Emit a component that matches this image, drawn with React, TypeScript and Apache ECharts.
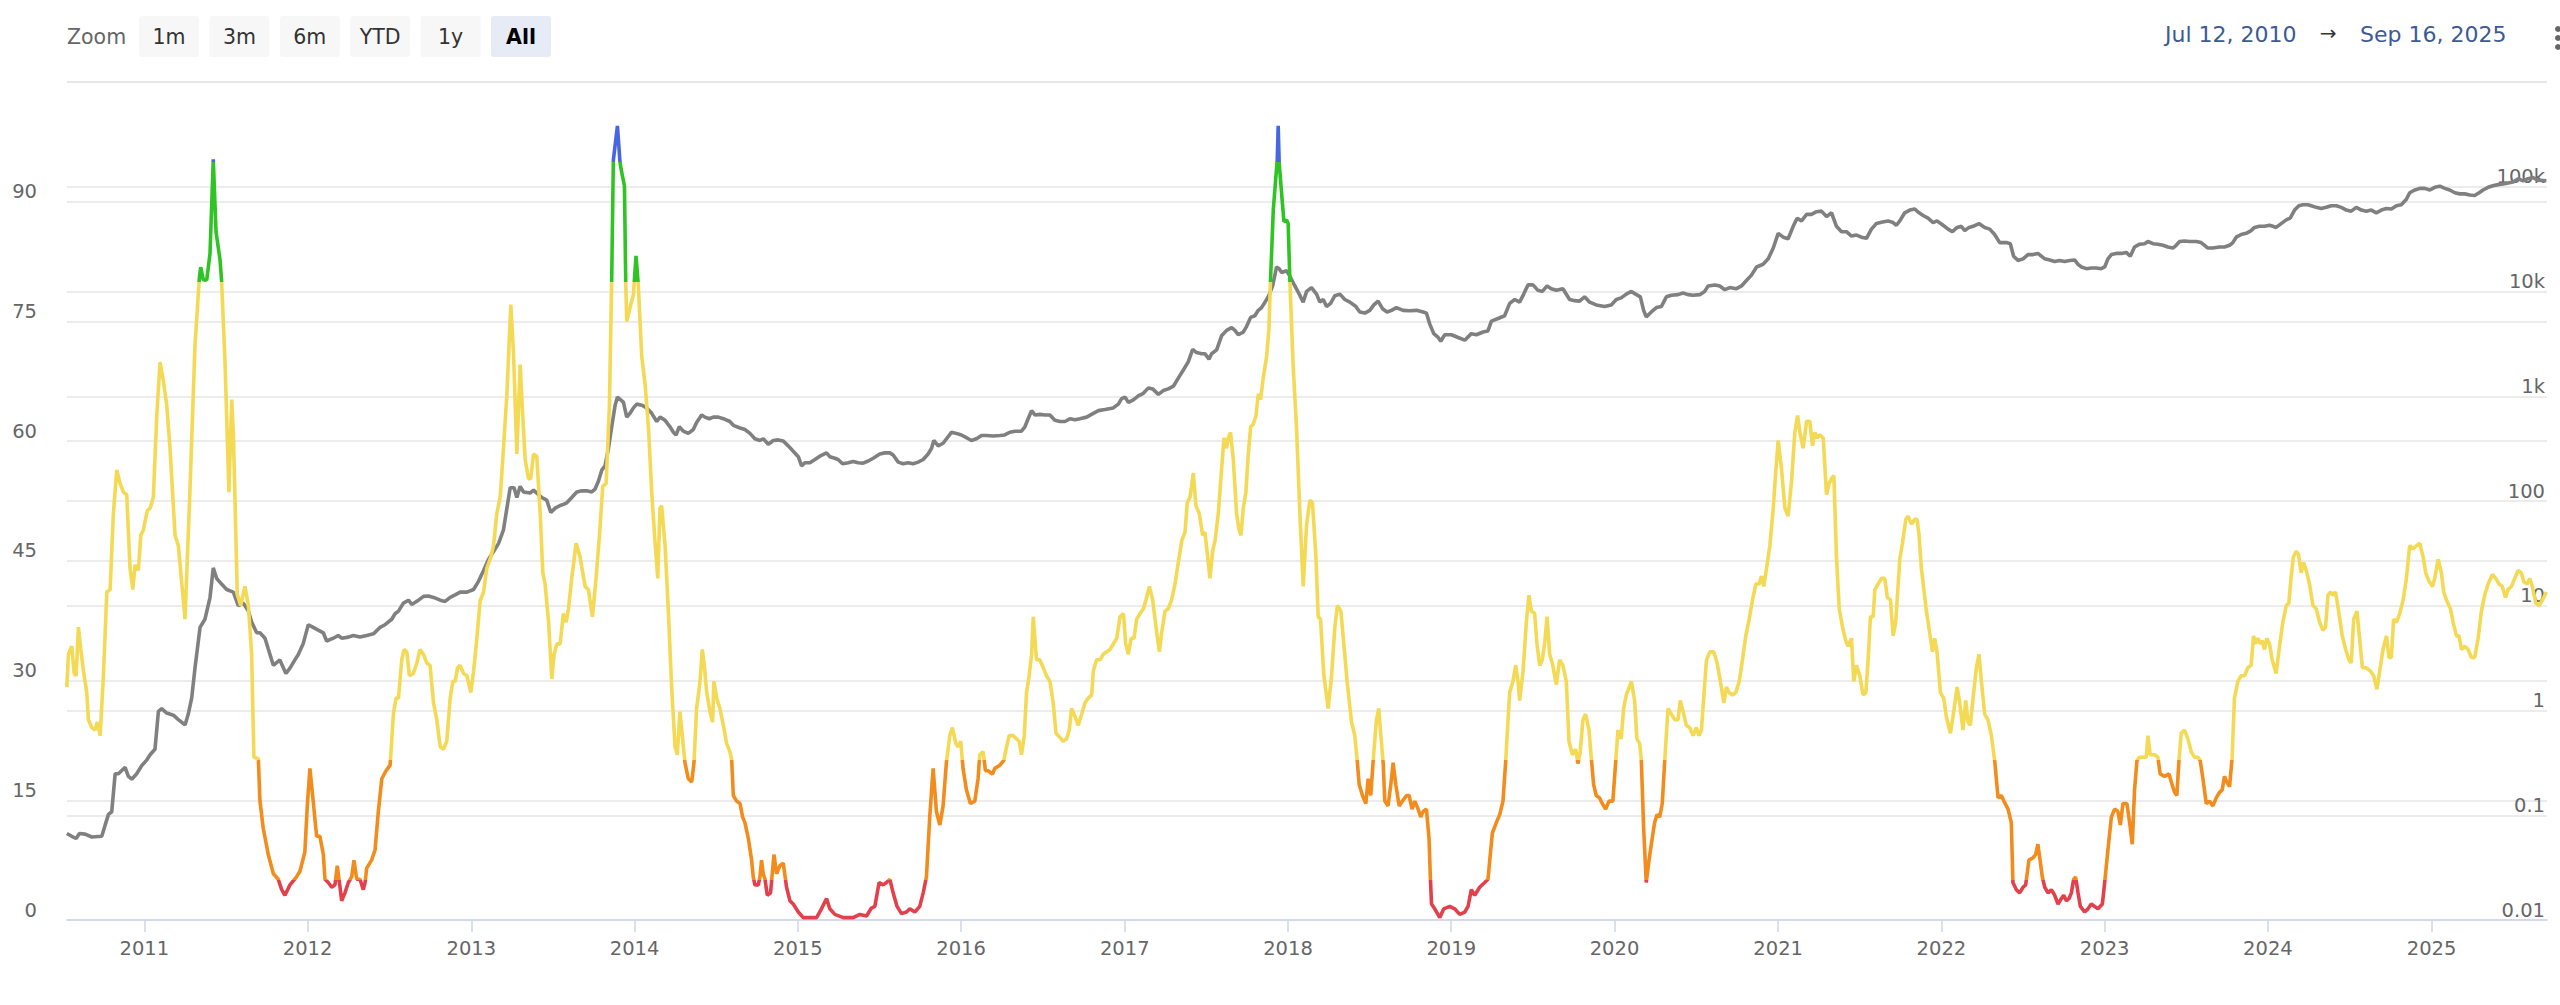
import React, { useEffect, useRef } from "react";
import * as echarts from "echarts";

// Oscillator: [decimal year, value 0..105]
const oscPoints: [number, number][] = [
  [2010.525, 29.2], [2010.535, 33.3], [2010.555, 34.3], [2010.570, 30.9], [2010.582, 30.6], [2010.596, 36.7],
  [2010.610, 34.0], [2010.627, 31.2], [2010.647, 28.5], [2010.657, 25.1], [2010.678, 24.1], [2010.698, 23.8],
  [2010.712, 24.8], [2010.729, 23.1], [2010.749, 30.6], [2010.770, 41.1], [2010.790, 41.4], [2010.810, 50.9],
  [2010.831, 56.4], [2010.851, 54.7], [2010.872, 53.6], [2010.892, 53.3], [2010.912, 44.1], [2010.929, 41.4],
  [2010.943, 44.5], [2010.963, 43.8], [2010.978, 48.2], [2010.994, 48.9], [2011.018, 51.3], [2011.035, 51.6],
  [2011.055, 53.0], [2011.076, 63.2], [2011.096, 69.9], [2011.116, 67.6], [2011.137, 64.5], [2011.157, 59.1],
  [2011.188, 48.2], [2011.208, 46.9], [2011.249, 37.7], [2011.280, 54.3], [2011.310, 72.0], [2011.337, 80.5],
  [2011.345, 81.8], [2011.361, 80.2], [2011.382, 80.2], [2011.402, 83.5], [2011.422, 95.3], [2011.439, 86.2],
  [2011.463, 82.8], [2011.473, 80.1], [2011.494, 69.9], [2011.518, 53.6], [2011.535, 65.2], [2011.545, 61.1],
  [2011.569, 40.8], [2011.590, 39.4], [2011.616, 41.8], [2011.637, 39.4], [2011.657, 33.3], [2011.671, 20.4],
  [2011.698, 20.2], [2011.708, 14.9], [2011.728, 11.5], [2011.759, 8.2], [2011.790, 5.8], [2011.820, 5.1],
  [2011.841, 3.8], [2011.861, 3.1], [2011.892, 4.4], [2011.932, 5.4], [2011.953, 6.1], [2011.983, 8.5],
  [2011.998, 14.3], [2012.014, 19.0], [2012.034, 14.9], [2012.055, 10.5], [2012.075, 10.5], [2012.096, 8.2],
  [2012.106, 5.1], [2012.126, 4.7], [2012.147, 4.1], [2012.167, 4.4], [2012.181, 6.8], [2012.198, 4.1],
  [2012.208, 2.4], [2012.228, 3.4], [2012.249, 4.7], [2012.269, 5.4], [2012.283, 7.5], [2012.300, 5.1],
  [2012.320, 5.1], [2012.340, 3.8], [2012.351, 4.7], [2012.361, 6.5], [2012.391, 7.5], [2012.412, 8.8],
  [2012.432, 13.6], [2012.453, 17.7], [2012.479, 18.7], [2012.504, 19.4], [2012.524, 25.8], [2012.540, 27.8],
  [2012.555, 27.8], [2012.575, 32.6], [2012.589, 33.9], [2012.606, 33.6], [2012.622, 30.6], [2012.646, 30.9],
  [2012.667, 32.2], [2012.687, 33.9], [2012.708, 33.3], [2012.728, 32.2], [2012.748, 31.9], [2012.769, 27.2],
  [2012.789, 25.1], [2012.810, 21.7], [2012.830, 21.4], [2012.850, 22.4], [2012.871, 27.8], [2012.887, 29.9],
  [2012.901, 29.9], [2012.916, 31.6], [2012.932, 31.9], [2012.952, 30.9], [2012.973, 30.6], [2012.997, 28.5],
  [2013.014, 31.2], [2013.034, 35.3], [2013.054, 40.0], [2013.075, 41.1], [2013.095, 44.1], [2013.120, 45.5],
  [2013.136, 46.9], [2013.156, 50.9], [2013.177, 53.0], [2013.197, 59.1], [2013.218, 65.9], [2013.242, 77.1],
  [2013.258, 71.3], [2013.279, 58.4], [2013.299, 69.6], [2013.315, 63.2], [2013.330, 57.7], [2013.350, 55.3],
  [2013.364, 55.3], [2013.381, 58.4], [2013.401, 58.1], [2013.422, 50.9], [2013.438, 43.5], [2013.452, 42.1],
  [2013.473, 37.4], [2013.493, 30.2], [2013.507, 33.3], [2013.524, 34.6], [2013.544, 34.6], [2013.564, 38.4],
  [2013.581, 37.3], [2013.595, 39.0], [2013.615, 42.8], [2013.642, 47.2], [2013.666, 45.5], [2013.697, 41.8],
  [2013.717, 41.4], [2013.742, 38.0], [2013.764, 42.8], [2013.785, 48.2], [2013.805, 54.3], [2013.826, 54.7],
  [2013.846, 64.5], [2013.860, 80.3], [2013.870, 95.2], [2013.895, 99.5], [2013.911, 94.9], [2013.921, 93.7],
  [2013.938, 92.0], [2013.946, 79.8], [2013.952, 75.0], [2013.972, 76.7], [2013.993, 78.4], [2014.009, 83.2],
  [2014.023, 79.5], [2014.044, 70.6], [2014.064, 67.2], [2014.085, 61.8], [2014.105, 53.6], [2014.125, 47.5],
  [2014.142, 42.8], [2014.156, 51.6], [2014.166, 51.9], [2014.187, 46.9], [2014.207, 38.7], [2014.227, 29.2],
  [2014.248, 21.7], [2014.262, 20.7], [2014.278, 26.1], [2014.299, 21.7], [2014.309, 19.7], [2014.329, 17.7],
  [2014.350, 17.3], [2014.364, 19.7], [2014.380, 26.5], [2014.401, 29.9], [2014.415, 33.9], [2014.427, 31.9],
  [2014.442, 28.5], [2014.462, 26.1], [2014.478, 24.8], [2014.486, 29.9], [2014.503, 27.8], [2014.523, 26.5],
  [2014.544, 24.4], [2014.564, 22.1], [2014.584, 21.1], [2014.595, 20.0], [2014.605, 15.6], [2014.625, 14.9],
  [2014.646, 14.6], [2014.662, 12.9], [2014.676, 12.2], [2014.697, 10.2], [2014.717, 7.5], [2014.727, 5.4],
  [2014.737, 4.4], [2014.758, 4.4], [2014.768, 5.4], [2014.778, 7.5], [2014.788, 5.8], [2014.799, 5.1],
  [2014.813, 3.1], [2014.833, 3.4], [2014.854, 8.2], [2014.870, 5.8], [2014.890, 6.8], [2014.911, 7.1],
  [2014.931, 4.1], [2014.952, 2.4], [2014.972, 2.0], [2015.003, 1.0], [2015.033, 0.3], [2015.074, 0.3],
  [2015.115, 0.3], [2015.145, 1.4], [2015.176, 2.7], [2015.196, 1.4], [2015.227, 0.7], [2015.278, 0.3],
  [2015.339, 0.3], [2015.380, 0.7], [2015.421, 0.5], [2015.451, 1.5], [2015.472, 1.7], [2015.498, 4.7],
  [2015.523, 4.4], [2015.543, 4.7], [2015.564, 5.1], [2015.584, 3.4], [2015.608, 1.7], [2015.635, 0.8],
  [2015.666, 1.0], [2015.686, 1.4], [2015.717, 1.0], [2015.747, 1.7], [2015.768, 3.4], [2015.788, 5.4],
  [2015.808, 12.9], [2015.829, 19.0], [2015.849, 13.6], [2015.870, 11.9], [2015.890, 14.3], [2015.910, 19.7],
  [2015.931, 23.1], [2015.947, 24.1], [2015.968, 22.1], [2015.982, 21.7], [2015.998, 22.4], [2016.012, 19.0],
  [2016.033, 16.3], [2016.057, 14.6], [2016.084, 14.9], [2016.104, 17.7], [2016.114, 20.7], [2016.135, 21.1],
  [2016.149, 18.7], [2016.165, 18.7], [2016.192, 18.3], [2016.206, 19.0], [2016.237, 19.4], [2016.261, 20.0],
  [2016.278, 21.7], [2016.294, 23.1], [2016.318, 23.1], [2016.339, 22.7], [2016.355, 22.4], [2016.369, 20.7],
  [2016.386, 23.1], [2016.400, 28.5], [2016.416, 30.6], [2016.431, 33.3], [2016.441, 38.0], [2016.461, 32.6],
  [2016.482, 32.6], [2016.502, 31.6], [2016.522, 30.6], [2016.543, 29.9], [2016.563, 27.2], [2016.580, 23.4],
  [2016.594, 23.1], [2016.624, 22.4], [2016.645, 22.7], [2016.661, 23.8], [2016.675, 26.5], [2016.696, 25.5],
  [2016.716, 24.4], [2016.737, 25.8], [2016.757, 27.2], [2016.777, 27.8], [2016.798, 28.2], [2016.808, 31.2],
  [2016.828, 32.6], [2016.849, 32.6], [2016.869, 33.3], [2016.890, 33.6], [2016.910, 33.9], [2016.930, 34.6],
  [2016.951, 35.3], [2016.971, 38.0], [2016.992, 38.4], [2017.006, 34.6], [2017.022, 33.3], [2017.039, 35.3],
  [2017.057, 35.3], [2017.073, 37.7], [2017.094, 38.4], [2017.114, 39.0], [2017.130, 40.1], [2017.151, 41.8],
  [2017.171, 40.1], [2017.196, 36.0], [2017.212, 33.6], [2017.226, 36.0], [2017.247, 38.7], [2017.267, 39.0],
  [2017.287, 40.1], [2017.308, 42.1], [2017.328, 44.8], [2017.349, 47.5], [2017.369, 48.6], [2017.383, 52.3],
  [2017.400, 53.0], [2017.420, 56.0], [2017.436, 51.9], [2017.457, 50.9], [2017.477, 48.2], [2017.491, 48.6],
  [2017.508, 45.5], [2017.522, 42.8], [2017.538, 46.2], [2017.553, 47.5], [2017.573, 50.9], [2017.593, 56.4],
  [2017.608, 60.4], [2017.624, 59.1], [2017.634, 60.4], [2017.648, 61.1], [2017.665, 57.7], [2017.685, 50.9],
  [2017.700, 48.9], [2017.712, 48.2], [2017.726, 51.6], [2017.742, 53.6], [2017.757, 58.4], [2017.771, 61.8],
  [2017.787, 62.1], [2017.804, 63.2], [2017.818, 65.9], [2017.832, 65.2], [2017.848, 67.9], [2017.869, 70.6],
  [2017.883, 74.0], [2017.893, 80.2], [2017.910, 89.0], [2017.934, 95.2], [2017.940, 99.5], [2017.946, 94.9],
  [2017.961, 91.0], [2017.975, 87.5], [2017.991, 87.7], [2018.001, 87.3], [2018.012, 79.8], [2018.032, 69.3],
  [2018.052, 61.8], [2018.073, 50.9], [2018.093, 41.8], [2018.114, 49.6], [2018.134, 52.6], [2018.150, 52.3],
  [2018.171, 45.5], [2018.185, 38.0], [2018.199, 37.7], [2018.220, 30.6], [2018.246, 26.5], [2018.267, 30.6],
  [2018.287, 36.7], [2018.303, 39.4], [2018.324, 38.7], [2018.342, 34.6], [2018.362, 29.9], [2018.389, 24.8],
  [2018.409, 23.1], [2018.424, 20.0], [2018.436, 17.0], [2018.456, 15.6], [2018.477, 14.6], [2018.491, 17.7],
  [2018.507, 15.6], [2018.522, 20.0], [2018.542, 25.1], [2018.556, 26.5], [2018.566, 23.8], [2018.583, 19.7],
  [2018.593, 14.9], [2018.613, 14.3], [2018.630, 17.0], [2018.644, 19.7], [2018.660, 17.0], [2018.681, 14.3],
  [2018.701, 14.9], [2018.726, 15.6], [2018.742, 15.6], [2018.760, 13.9], [2018.777, 14.9], [2018.797, 13.9],
  [2018.813, 12.9], [2018.828, 13.6], [2018.848, 13.9], [2018.864, 10.2], [2018.872, 5.4], [2018.879, 2.0],
  [2018.899, 1.4], [2018.930, 0.3], [2018.954, 1.4], [2018.991, 1.7], [2019.021, 1.4], [2019.052, 0.7],
  [2019.083, 1.0], [2019.103, 1.7], [2019.123, 3.8], [2019.144, 3.1], [2019.174, 4.1], [2019.205, 4.7],
  [2019.225, 5.1], [2019.236, 7.5], [2019.252, 10.9], [2019.276, 12.2], [2019.297, 13.2], [2019.317, 14.9],
  [2019.334, 20.0], [2019.348, 25.1], [2019.358, 28.5], [2019.378, 29.9], [2019.395, 31.9], [2019.409, 29.9],
  [2019.419, 27.5], [2019.440, 31.2], [2019.460, 37.3], [2019.476, 40.7], [2019.491, 38.7], [2019.511, 38.4],
  [2019.525, 34.6], [2019.542, 31.9], [2019.558, 32.6], [2019.572, 34.6], [2019.587, 38.0], [2019.603, 33.3],
  [2019.619, 32.2], [2019.644, 29.5], [2019.664, 32.6], [2019.684, 31.9], [2019.705, 29.9], [2019.721, 22.4],
  [2019.742, 20.7], [2019.762, 21.4], [2019.776, 19.6], [2019.790, 21.1], [2019.807, 25.1], [2019.823, 25.8],
  [2019.844, 23.8], [2019.858, 20.3], [2019.872, 17.0], [2019.888, 15.6], [2019.909, 15.3], [2019.925, 14.6],
  [2019.946, 13.9], [2019.966, 14.9], [2019.990, 14.9], [2020.007, 19.7], [2020.021, 23.8], [2020.041, 22.7],
  [2020.056, 26.5], [2020.072, 28.2], [2020.103, 29.9], [2020.123, 27.5], [2020.137, 22.7], [2020.154, 22.1],
  [2020.164, 20.0], [2020.178, 11.6], [2020.194, 4.7], [2020.211, 7.5], [2020.225, 9.5], [2020.245, 12.2],
  [2020.260, 13.2], [2020.276, 12.9], [2020.292, 14.6], [2020.307, 20.0], [2020.327, 26.5], [2020.347, 25.8],
  [2020.368, 25.1], [2020.388, 25.1], [2020.402, 27.5], [2020.423, 25.8], [2020.439, 24.4], [2020.460, 24.1],
  [2020.480, 23.1], [2020.500, 24.1], [2020.517, 23.1], [2020.531, 23.8], [2020.545, 27.8], [2020.562, 32.6],
  [2020.582, 33.6], [2020.606, 33.6], [2020.627, 32.2], [2020.647, 29.9], [2020.668, 27.2], [2020.684, 29.2],
  [2020.700, 28.5], [2020.721, 28.2], [2020.741, 28.5], [2020.762, 29.9], [2020.782, 32.6], [2020.802, 35.6],
  [2020.823, 37.7], [2020.843, 40.1], [2020.864, 42.1], [2020.884, 42.1], [2020.898, 43.1], [2020.912, 41.8],
  [2020.929, 44.1], [2020.949, 46.9], [2020.970, 51.6], [2020.986, 56.4], [2021.000, 60.1], [2021.021, 56.4],
  [2021.041, 51.6], [2021.061, 50.6], [2021.082, 55.0], [2021.102, 61.1], [2021.119, 63.2], [2021.133, 61.1],
  [2021.153, 59.1], [2021.174, 62.5], [2021.194, 62.5], [2021.210, 59.4], [2021.225, 61.1], [2021.239, 60.4],
  [2021.255, 60.8], [2021.276, 60.4], [2021.296, 53.3], [2021.312, 54.7], [2021.327, 55.3], [2021.341, 55.7],
  [2021.357, 45.5], [2021.374, 39.0], [2021.394, 36.7], [2021.414, 35.0], [2021.429, 34.3], [2021.449, 35.3],
  [2021.463, 29.9], [2021.480, 31.9], [2021.500, 30.6], [2021.520, 28.2], [2021.537, 28.5], [2021.551, 32.6],
  [2021.565, 38.0], [2021.582, 38.0], [2021.592, 41.4], [2021.612, 42.1], [2021.633, 42.8], [2021.653, 42.8],
  [2021.669, 40.4], [2021.688, 40.1], [2021.704, 35.6], [2021.720, 37.3], [2021.745, 45.2], [2021.761, 47.2],
  [2021.782, 50.2], [2021.796, 50.6], [2021.816, 49.6], [2021.837, 50.2], [2021.851, 50.2], [2021.863, 48.2],
  [2021.877, 44.1], [2021.894, 41.1], [2021.908, 38.7], [2021.928, 36.0], [2021.945, 33.6], [2021.959, 35.3],
  [2021.973, 33.6], [2021.994, 28.5], [2022.014, 27.8], [2022.030, 25.5], [2022.055, 23.4], [2022.071, 25.5],
  [2022.096, 29.2], [2022.112, 27.2], [2022.132, 23.8], [2022.149, 27.5], [2022.163, 24.8], [2022.177, 24.4],
  [2022.194, 27.8], [2022.214, 31.6], [2022.230, 33.3], [2022.245, 29.9], [2022.265, 25.8], [2022.285, 25.1],
  [2022.306, 23.1], [2022.326, 20.0], [2022.347, 15.3], [2022.367, 15.6], [2022.383, 14.9], [2022.408, 13.9],
  [2022.428, 12.2], [2022.438, 4.7], [2022.459, 3.8], [2022.479, 3.4], [2022.500, 4.1], [2022.516, 4.4],
  [2022.536, 7.5], [2022.561, 7.8], [2022.577, 8.2], [2022.591, 9.5], [2022.618, 5.4], [2022.633, 4.1],
  [2022.653, 3.4], [2022.673, 3.8], [2022.694, 3.1], [2022.714, 2.0], [2022.735, 2.7], [2022.749, 3.1],
  [2022.765, 2.4], [2022.782, 2.7], [2022.796, 3.4], [2022.810, 5.1], [2022.822, 5.4], [2022.837, 3.4],
  [2022.851, 1.7], [2022.877, 1.0], [2022.898, 1.4], [2022.918, 2.0], [2022.939, 1.7], [2022.959, 1.4],
  [2022.986, 2.0], [2023.000, 4.7], [2023.020, 8.8], [2023.041, 12.9], [2023.061, 13.9], [2023.081, 13.6],
  [2023.096, 11.9], [2023.112, 14.6], [2023.136, 14.6], [2023.153, 12.2], [2023.169, 9.5], [2023.183, 16.3],
  [2023.198, 20.0], [2023.214, 20.4], [2023.234, 20.4], [2023.255, 20.4], [2023.265, 23.1], [2023.279, 20.7],
  [2023.306, 20.7], [2023.326, 20.4], [2023.340, 18.3], [2023.367, 18.0], [2023.394, 18.3], [2023.408, 17.3],
  [2023.428, 16.0], [2023.442, 15.6], [2023.455, 20.0], [2023.469, 23.4], [2023.489, 23.8], [2023.510, 22.7],
  [2023.530, 21.1], [2023.551, 20.4], [2023.571, 20.4], [2023.585, 20.0], [2023.602, 17.7], [2023.622, 14.6],
  [2023.642, 14.9], [2023.663, 14.3], [2023.683, 15.3], [2023.704, 16.0], [2023.720, 16.3], [2023.734, 18.0],
  [2023.748, 17.3], [2023.765, 16.7], [2023.781, 20.4], [2023.795, 27.8], [2023.816, 29.9], [2023.836, 30.6],
  [2023.857, 30.6], [2023.877, 31.6], [2023.897, 31.9], [2023.912, 35.6], [2023.924, 34.6], [2023.938, 35.3],
  [2023.953, 34.6], [2023.965, 35.0], [2023.979, 33.9], [2023.993, 35.3], [2024.010, 34.6], [2024.026, 32.6],
  [2024.050, 30.9], [2024.071, 34.3], [2024.091, 37.3], [2024.112, 39.4], [2024.128, 39.7], [2024.142, 43.1],
  [2024.156, 45.5], [2024.173, 46.2], [2024.187, 45.8], [2024.203, 43.5], [2024.218, 44.8], [2024.234, 43.8],
  [2024.254, 42.1], [2024.275, 39.4], [2024.295, 39.0], [2024.316, 37.3], [2024.336, 36.3], [2024.352, 36.7],
  [2024.367, 40.7], [2024.383, 41.1], [2024.397, 40.7], [2024.413, 41.1], [2024.434, 38.4], [2024.454, 35.6],
  [2024.475, 33.9], [2024.495, 32.6], [2024.509, 32.2], [2024.524, 37.7], [2024.544, 38.7], [2024.560, 35.3],
  [2024.577, 31.6], [2024.601, 31.6], [2024.626, 31.2], [2024.646, 30.6], [2024.666, 28.9], [2024.683, 31.2],
  [2024.703, 33.9], [2024.724, 35.6], [2024.740, 32.9], [2024.754, 32.9], [2024.768, 37.7], [2024.785, 37.3],
  [2024.805, 38.4], [2024.826, 40.1], [2024.846, 42.8], [2024.866, 46.9], [2024.887, 46.5], [2024.907, 46.9],
  [2024.928, 47.2], [2024.948, 45.5], [2024.964, 43.5], [2024.985, 42.4], [2025.005, 41.8], [2025.019, 42.8],
  [2025.040, 45.2], [2025.060, 43.5], [2025.074, 41.1], [2025.091, 40.1], [2025.115, 39.0], [2025.132, 37.3],
  [2025.152, 35.6], [2025.168, 35.6], [2025.183, 33.9], [2025.203, 34.3], [2025.223, 33.9], [2025.244, 32.9],
  [2025.264, 32.9], [2025.285, 35.3], [2025.305, 38.7], [2025.325, 40.7], [2025.346, 42.1], [2025.372, 43.3],
  [2025.393, 42.8], [2025.413, 42.1], [2025.433, 41.8], [2025.452, 40.4], [2025.468, 41.4], [2025.489, 41.8],
  [2025.509, 42.8], [2025.530, 43.8], [2025.550, 43.5], [2025.564, 42.4], [2025.585, 42.1], [2025.601, 42.8],
  [2025.617, 41.8], [2025.638, 39.7], [2025.658, 39.4], [2025.679, 40.1], [2025.703, 41.1],
];

// Price (log scale, USD): [decimal year, price]
const pricePoints: [number, number][] = [
  [2010.525, 0.067], [2010.555, 0.063], [2010.582, 0.060], [2010.602, 0.067], [2010.637, 0.066], [2010.678, 0.062],
  [2010.739, 0.063], [2010.759, 0.080], [2010.780, 0.102], [2010.800, 0.108], [2010.821, 0.249], [2010.841, 0.249],
  [2010.882, 0.287], [2010.902, 0.235], [2010.923, 0.221], [2010.953, 0.249], [2010.984, 0.298], [2011.014, 0.336],
  [2011.035, 0.378], [2011.065, 0.426], [2011.086, 0.98], [2011.106, 1.04], [2011.137, 0.946], [2011.178, 0.902],
  [2011.208, 0.82], [2011.249, 0.728], [2011.269, 0.924], [2011.290, 1.32], [2011.310, 2.54], [2011.341, 6.21],
  [2011.371, 7.43], [2011.402, 11.97], [2011.422, 23.0], [2011.443, 18.2], [2011.473, 16.1], [2011.504, 14.3],
  [2011.545, 13.5], [2011.575, 10.0], [2011.606, 10.6], [2011.637, 8.89], [2011.657, 7.0], [2011.688, 5.52],
  [2011.708, 5.52], [2011.739, 4.90], [2011.759, 3.86], [2011.790, 2.70], [2011.830, 3.04], [2011.867, 2.26],
  [2011.892, 2.54], [2011.922, 3.04], [2011.943, 3.43], [2011.973, 4.35], [2012.004, 6.59], [2012.034, 6.21],
  [2012.065, 5.85], [2012.096, 5.52], [2012.116, 4.61], [2012.157, 4.90], [2012.187, 5.20], [2012.208, 4.90],
  [2012.249, 5.02], [2012.279, 5.20], [2012.320, 5.02], [2012.361, 5.20], [2012.402, 5.39], [2012.442, 6.21],
  [2012.473, 6.59], [2012.514, 7.43], [2012.534, 8.38], [2012.555, 8.89], [2012.585, 10.6], [2012.616, 11.3],
  [2012.636, 10.3], [2012.677, 11.3], [2012.708, 12.3], [2012.738, 12.4], [2012.769, 12.0], [2012.810, 11.3],
  [2012.840, 11.0], [2012.871, 12.0], [2012.901, 12.7], [2012.932, 13.5], [2012.973, 13.5], [2013.014, 14.3],
  [2013.044, 17.1], [2013.075, 21.7], [2013.105, 27.6], [2013.136, 33.0], [2013.167, 39.4], [2013.197, 53.1],
  [2013.218, 85.5], [2013.238, 134], [2013.262, 134], [2013.279, 108], [2013.299, 138], [2013.320, 122],
  [2013.360, 119], [2013.381, 127], [2013.401, 119], [2013.432, 108], [2013.462, 102], [2013.487, 77.6],
  [2013.514, 85.5], [2013.544, 90.6], [2013.564, 92.9], [2013.585, 96.2], [2013.615, 108], [2013.646, 122],
  [2013.677, 125], [2013.707, 125], [2013.738, 122], [2013.758, 130], [2013.779, 155], [2013.799, 197],
  [2013.819, 216], [2013.840, 317], [2013.860, 511], [2013.881, 822], [2013.895, 982], [2013.915, 925],
  [2013.932, 873], [2013.952, 632], [2013.972, 687], [2013.993, 774], [2014.013, 841], [2014.044, 822],
  [2014.074, 774], [2014.105, 687], [2014.136, 574], [2014.156, 632], [2014.187, 589], [2014.217, 511],
  [2014.238, 453], [2014.254, 427], [2014.274, 511], [2014.299, 464], [2014.329, 442], [2014.360, 481],
  [2014.380, 561], [2014.411, 663], [2014.431, 632], [2014.458, 610], [2014.482, 632], [2014.513, 632],
  [2014.554, 603], [2014.584, 574], [2014.605, 528], [2014.646, 498], [2014.676, 481], [2014.707, 442],
  [2014.737, 393], [2014.768, 378], [2014.788, 393], [2014.819, 348], [2014.850, 378], [2014.880, 383],
  [2014.911, 374], [2014.941, 336], [2014.972, 299], [2015.003, 265], [2015.023, 216], [2015.043, 232],
  [2015.074, 232], [2015.105, 249], [2015.135, 268], [2015.176, 288], [2015.196, 265], [2015.227, 256],
  [2015.247, 249], [2015.274, 227], [2015.309, 232], [2015.339, 238], [2015.370, 232], [2015.400, 230],
  [2015.431, 241], [2015.462, 256], [2015.502, 281], [2015.533, 288], [2015.564, 288], [2015.584, 275],
  [2015.615, 235], [2015.645, 227], [2015.676, 232], [2015.706, 227], [2015.737, 235], [2015.768, 249],
  [2015.798, 281], [2015.819, 317], [2015.833, 378], [2015.860, 336], [2015.890, 356], [2015.921, 411],
  [2015.941, 453], [2015.972, 442], [2016.002, 427], [2016.033, 402], [2016.063, 378], [2016.094, 393],
  [2016.125, 422], [2016.155, 422], [2016.196, 417], [2016.237, 422], [2016.267, 427], [2016.298, 453],
  [2016.329, 464], [2016.369, 464], [2016.390, 511], [2016.410, 610], [2016.431, 729], [2016.451, 663],
  [2016.482, 671], [2016.512, 663], [2016.543, 663], [2016.573, 589], [2016.604, 574], [2016.635, 574],
  [2016.665, 610], [2016.696, 596], [2016.726, 610], [2016.767, 632], [2016.808, 687], [2016.839, 729],
  [2016.879, 747], [2016.930, 774], [2016.961, 841], [2016.981, 948], [2017.002, 982], [2017.022, 873],
  [2017.053, 925], [2017.083, 1007], [2017.114, 1067], [2017.145, 1202], [2017.171, 1175], [2017.206, 1042],
  [2017.236, 1133], [2017.267, 1175], [2017.298, 1247], [2017.328, 1490], [2017.359, 1782], [2017.389, 2132],
  [2017.416, 2805], [2017.440, 2612], [2017.471, 2548], [2017.491, 2548], [2017.516, 2262], [2017.532, 2548],
  [2017.563, 2769], [2017.593, 3775], [2017.624, 4254], [2017.655, 4516], [2017.675, 4254], [2017.695, 3866],
  [2017.726, 4102], [2017.746, 4624], [2017.771, 5663], [2017.797, 5866], [2017.818, 6610], [2017.838, 7019],
  [2017.859, 7910], [2017.879, 8898], [2017.906, 11300], [2017.930, 17140], [2017.946, 16520], [2017.961, 15200],
  [2017.991, 15770], [2018.012, 14000], [2018.042, 11300], [2018.069, 9440], [2018.093, 7910], [2018.114, 10020],
  [2018.144, 10900], [2018.175, 9440], [2018.195, 7910], [2018.216, 8390], [2018.236, 7180], [2018.261, 7710],
  [2018.287, 9120], [2018.318, 9440], [2018.348, 8390], [2018.379, 7910], [2018.416, 7180], [2018.440, 6380],
  [2018.471, 6220], [2018.501, 6610], [2018.526, 7440], [2018.552, 8090], [2018.579, 6850], [2018.607, 6380],
  [2018.634, 6610], [2018.664, 7019], [2018.705, 6610], [2018.746, 6540], [2018.787, 6610], [2018.828, 6380],
  [2018.848, 6220], [2018.868, 4910], [2018.893, 3960], [2018.920, 3640], [2018.936, 3350], [2018.960, 3866],
  [2019.001, 3866], [2019.042, 3640], [2019.083, 3430], [2019.123, 3960], [2019.154, 3866], [2019.195, 4102],
  [2019.225, 4200], [2019.246, 5210], [2019.287, 5520], [2019.327, 5866], [2019.358, 7710], [2019.389, 8390],
  [2019.419, 7910], [2019.444, 9440], [2019.470, 11560], [2019.501, 11560], [2019.531, 10260], [2019.558, 10020],
  [2019.587, 11300], [2019.613, 10640], [2019.644, 10260], [2019.684, 10640], [2019.725, 8390], [2019.756, 8180],
  [2019.786, 8090], [2019.817, 8898], [2019.848, 7910], [2019.888, 7440], [2019.939, 7180], [2019.980, 7440],
  [2020.011, 8390], [2020.041, 8690], [2020.072, 9440], [2020.103, 10020], [2020.129, 9440], [2020.158, 8898],
  [2020.178, 6610], [2020.194, 5730], [2020.225, 6380], [2020.256, 7019], [2020.286, 7180], [2020.317, 8898],
  [2020.347, 9220], [2020.388, 9330], [2020.419, 9680], [2020.449, 9330], [2020.480, 9220], [2020.521, 9330],
  [2020.551, 10020], [2020.572, 11300], [2020.613, 11560], [2020.643, 11300], [2020.674, 10400], [2020.704, 10900],
  [2020.745, 10640], [2020.776, 11300], [2020.806, 12740], [2020.837, 14330], [2020.868, 17140], [2020.908, 18200],
  [2020.939, 20500], [2020.970, 26000], [2021.000, 35900], [2021.031, 33000], [2021.061, 31900], [2021.092, 41900],
  [2021.116, 50100], [2021.143, 47200], [2021.174, 54500], [2021.204, 54500], [2021.235, 57800], [2021.265, 58500],
  [2021.296, 51900], [2021.327, 56400], [2021.357, 41900], [2021.388, 37200], [2021.418, 37200], [2021.449, 33800],
  [2021.480, 34600], [2021.510, 33000], [2021.541, 32200], [2021.571, 39400], [2021.602, 44500], [2021.639, 46100],
  [2021.673, 47200], [2021.704, 45500], [2021.724, 42900], [2021.745, 47200], [2021.775, 56400], [2021.806, 59900],
  [2021.837, 61300], [2021.863, 56400], [2021.888, 53200], [2021.918, 50100], [2021.949, 45500], [2021.973, 47200],
  [2022.010, 42900], [2022.041, 39400], [2022.067, 37200], [2022.096, 40900], [2022.122, 41900], [2022.143, 38100],
  [2022.169, 40900], [2022.194, 41900], [2022.230, 44500], [2022.265, 40900], [2022.296, 39400], [2022.326, 35000],
  [2022.357, 29300], [2022.398, 29300], [2022.422, 28600], [2022.442, 21700], [2022.469, 19800], [2022.500, 20500],
  [2022.530, 22500], [2022.561, 22500], [2022.591, 23100], [2022.633, 20500], [2022.663, 20000], [2022.694, 19300],
  [2022.724, 19800], [2022.755, 19300], [2022.786, 19800], [2022.816, 20000], [2022.837, 18200], [2022.857, 17140],
  [2022.888, 16520], [2022.918, 16750], [2022.949, 16750], [2022.979, 16520], [2023.000, 17140], [2023.020, 20500],
  [2023.041, 22500], [2023.071, 23100], [2023.102, 23100], [2023.132, 23600], [2023.157, 21700], [2023.183, 26600],
  [2023.214, 28300], [2023.245, 28600], [2023.265, 30000], [2023.296, 28600], [2023.326, 28300], [2023.357, 27600],
  [2023.387, 26600], [2023.418, 26000], [2023.438, 27600], [2023.459, 30000], [2023.489, 30300], [2023.520, 30000],
  [2023.561, 30000], [2023.591, 29300], [2023.612, 27600], [2023.632, 26000], [2023.663, 26000], [2023.704, 26600],
  [2023.734, 26600], [2023.765, 27600], [2023.785, 29300], [2023.806, 33000], [2023.836, 35000], [2023.867, 35900],
  [2023.897, 38100], [2023.918, 40900], [2023.948, 41900], [2023.979, 41900], [2024.010, 42900], [2024.030, 41900],
  [2024.050, 40900], [2024.081, 44500], [2024.112, 48300], [2024.136, 50100], [2024.163, 59900], [2024.189, 65900],
  [2024.214, 67400], [2024.244, 67400], [2024.265, 65900], [2024.295, 63600], [2024.326, 62100], [2024.356, 63600],
  [2024.387, 65900], [2024.418, 65900], [2024.448, 63600], [2024.479, 59900], [2024.509, 58500], [2024.540, 63600],
  [2024.571, 59900], [2024.601, 58500], [2024.632, 59900], [2024.662, 56400], [2024.693, 59900], [2024.724, 62100],
  [2024.754, 61300], [2024.785, 65900], [2024.815, 67400], [2024.846, 76000], [2024.866, 87700], [2024.897, 93100],
  [2024.928, 96500], [2024.958, 96500], [2024.989, 93100], [2025.019, 98800], [2025.050, 101200], [2025.081, 96500],
  [2025.111, 93100], [2025.142, 87700], [2025.172, 85500], [2025.203, 85500], [2025.234, 83500], [2025.264, 82600],
  [2025.291, 87700], [2025.315, 93100], [2025.346, 98800], [2025.376, 102300], [2025.407, 104800], [2025.438, 106100],
  [2025.468, 108600], [2025.499, 111200], [2025.530, 119400], [2025.560, 114000], [2025.591, 119400], [2025.621, 122400],
  [2025.652, 115400], [2025.703, 114000],
];

const yearTicks = [2011, 2012, 2013, 2014, 2015, 2016, 2017, 2018, 2019, 2020, 2021, 2022, 2023, 2024, 2025];
const zoomButtons = ["1m", "3m", "6m", "YTD", "1y", "All"];
const selectedButton = "All";
const rangeStart = "Jul 12, 2010";
const rangeEnd = "Sep 16, 2025";
const zoneThresholds = [5, 20, 80, 95];
const zoneColors = ["#e2414b", "#f28c1c", "#f4d955", "#2fc424", "#4766e0"];

function yearToTime(y: number): number {
  const Y = Math.floor(y);
  const s = Date.UTC(Y, 0, 1);
  const e = Date.UTC(Y + 1, 0, 1);
  return s + (y - Y) * (e - s);
}

const FONT = "'DejaVu Sans', 'Noto Sans', sans-serif";

export default function App() {
  const ref = useRef<HTMLDivElement>(null);
  useEffect(() => {
    document.body.style.margin = "0";
    const chart = echarts.init(ref.current!, null, { renderer: "svg", width: 2560, height: 1005 });

    const oscData = oscPoints.map(([y, v]) => [yearToTime(y), v]);
    const priceData = pricePoints.map(([y, v]) => [yearToTime(y), v]);

    const logFmt = (v: number) => {
      if (v >= 999999) return "";
      if (v >= 1000) return Math.round(v / 1000) + "k";
      return String(+v.toPrecision(2));
    };

    const btnX0 = 139;
    const btnStep = 70.4;
    const btnW = 60;
    const graphics: any[] = [
      {
        type: "text", x: 67, y: 37,
        style: { text: "Zoom", fill: "#666666", font: `20.5px ${FONT}`, textAlign: "left", textVerticalAlign: "middle" },
      },
    ];
    zoomButtons.forEach((b, i) => {
      const x = btnX0 + i * btnStep;
      const sel = b === selectedButton;
      graphics.push({
        type: "rect", shape: { x, y: 16, width: btnW, height: 41, r: 3 },
        style: { fill: sel ? "#e6ebf5" : "#f7f7f7" },
      });
      graphics.push({
        type: "text", x: x + btnW / 2, y: 37,
        style: {
          text: b, fill: sel ? "#000000" : "#333333",
          font: `${sel ? "bold " : ""}20.5px ${FONT}`,
          textAlign: "center", textVerticalAlign: "middle",
        },
      });
    });
    graphics.push(
      { type: "text", x: 2165, y: 34, style: { text: rangeStart, fill: "#3d5a96", font: `22px ${FONT}`, textAlign: "left", textVerticalAlign: "middle" } },
      { type: "text", x: 2328, y: 33, style: { text: "→", fill: "#333333", font: `20px ${FONT}`, textAlign: "center", textVerticalAlign: "middle" } },
      { type: "text", x: 2360, y: 34, style: { text: rangeEnd, fill: "#3d5a96", font: `22px ${FONT}`, textAlign: "left", textVerticalAlign: "middle" } },
      { type: "circle", shape: { cx: 2558, cy: 29, r: 3 }, style: { fill: "#666666" } },
      { type: "circle", shape: { cx: 2558, cy: 38, r: 3 }, style: { fill: "#666666" } },
      { type: "circle", shape: { cx: 2558, cy: 47, r: 3 }, style: { fill: "#666666" } },
    );

    const pieces = [
      { lt: zoneThresholds[0], color: zoneColors[0] },
      { gte: zoneThresholds[0], lt: zoneThresholds[1], color: zoneColors[1] },
      { gte: zoneThresholds[1], lt: zoneThresholds[2], color: zoneColors[2] },
      { gte: zoneThresholds[2], lt: zoneThresholds[3], color: zoneColors[3] },
      { gte: zoneThresholds[3], color: zoneColors[4] },
    ];

    const yearTickTimes = yearTicks.map((y) => Date.UTC(y, 0, 1));

    chart.setOption({
      animation: false,
      backgroundColor: "#ffffff",
      textStyle: { fontFamily: FONT },
      grid: { left: 67, right: 13, top: 82, bottom: 85, containLabel: false },
      xAxis: {
        type: "value",
        min: Date.UTC(2010, 6, 12),
        max: Date.UTC(2025, 8, 16),
        scale: true,
        splitLine: { show: false },
        axisLine: { show: true, lineStyle: { color: "#ccd6eb", width: 1.5 } },
        axisTick: { show: true, length: 12, lineStyle: { color: "#ccd6eb", width: 1.5 }, customValues: yearTickTimes },
        axisLabel: {
          color: "#666666", fontSize: 19.5, fontFamily: FONT, margin: 18,
          customValues: yearTickTimes,
          formatter: (v: number) => String(new Date(v).getUTCFullYear()),
        },
      },
      yAxis: [
        {
          type: "value", min: 0, max: 105, interval: 15, position: "left",
          axisLine: { show: false }, axisTick: { show: false },
          axisLabel: {
            color: "#666666", fontSize: 19.5, fontFamily: FONT, margin: 30,
            verticalAlign: "bottom",
            formatter: (v: number) => (v >= 105 ? "" : String(v)),
          },
          splitLine: { show: true, lineStyle: { color: "#e6e6e6", width: 1.5 } },
        },
        {
          type: "log", logBase: 10, min: 0.01, max: 1000000, position: "right",
          axisLine: { show: false }, axisTick: { show: false },
          axisLabel: {
            inside: true, margin: 2, color: "#666666", fontSize: 19.5, fontFamily: FONT,
            verticalAlign: "bottom", formatter: logFmt,
          },
          splitLine: { show: true, lineStyle: { color: "#e6e6e6", width: 1.5 } },
        },
      ],
      visualMap: {
        show: false, type: "piecewise", seriesIndex: 1, dimension: 1, pieces,
      },
      series: [
        {
          name: "Price", type: "line", yAxisIndex: 1, data: priceData, showSymbol: false,
          lineStyle: { color: "#808080", width: 3.6 }, itemStyle: { color: "#808080" }, z: 2,
        },
        {
          name: "Oscillator", type: "line", yAxisIndex: 0, data: oscData, showSymbol: false,
          lineStyle: { width: 3.6 }, z: 3,
        },
      ],
      graphic: graphics,
    });
    return () => chart.dispose();
  }, []);
  return <div ref={ref} style={{ width: 2560, height: 1005 }} />;
}
